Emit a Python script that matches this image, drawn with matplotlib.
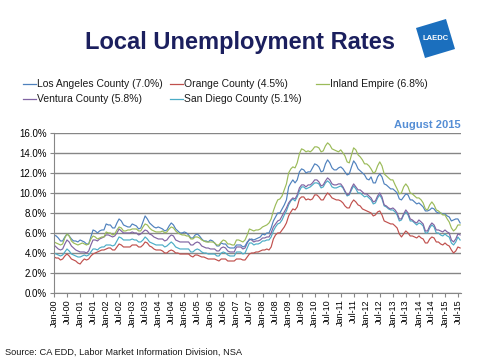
import pandas as pd
import matplotlib
matplotlib.use("Agg")
import matplotlib.pyplot as plt
import matplotlib.dates as mdates
from matplotlib.lines import Line2D
from matplotlib.patches import Polygon

plt.rcParams["font.family"] = ["Liberation Sans", "DejaVu Sans"]

# monthly NSA unemployment rates, Jan 2000 - Aug 2015 (%)
la = [5.8, 5.7, 5.5, 5.2, 5.2, 5.6, 5.9, 5.7, 5.4, 5.2, 5.2, 5.1,
      5.3, 5.2, 5.1, 4.9, 4.9, 5.6, 6.3, 6.2, 6.0, 6.2, 6.3, 6.3,
      6.9, 6.8, 6.8, 6.5, 6.5, 7.0, 7.4, 7.2, 6.8, 6.7, 6.6, 6.6,
      6.9, 6.8, 6.7, 6.4, 6.5, 7.1, 7.7, 7.4, 7.0, 6.8, 6.6, 6.5,
      6.6, 6.5, 6.4, 6.2, 6.3, 6.7, 7.0, 6.8, 6.4, 6.2, 6.0, 6.0,
      6.1, 6.0, 5.8, 5.5, 5.5, 5.8, 5.9, 5.7, 5.4, 5.2, 5.2, 5.1,
      5.3, 5.2, 5.0, 4.7, 4.7, 5.0, 4.9, 4.9, 4.6, 4.5, 4.5, 4.5,
      4.8, 4.8, 4.8, 4.6, 4.7, 5.1, 5.3, 5.4, 5.3, 5.4, 5.5, 5.6,
      5.9, 5.8, 6.0, 6.0, 6.5, 7.2, 7.6, 8.0, 8.0, 8.4, 8.8, 9.3,
      10.6, 11.0, 11.3, 11.0, 11.3, 12.1, 12.4, 12.3, 12.0, 12.1, 12.1, 12.5,
      12.9, 12.8, 12.6, 12.1, 12.2, 12.9, 13.3, 13.0, 12.5, 12.3, 12.3, 12.5,
      12.6, 12.4, 12.1, 11.8, 11.9, 12.6, 13.2, 12.9, 12.4, 12.2, 12.0, 11.8,
      11.4, 11.3, 11.6, 11.0, 11.0, 11.6, 11.9, 11.6, 10.9, 10.8, 10.6, 10.4,
      10.4, 10.2, 10.0, 9.4, 9.3, 9.6, 9.9, 9.8, 9.3, 9.3, 9.1, 8.9,
      9.0, 8.8, 8.6, 8.2, 8.2, 8.3, 8.5, 8.4, 8.1, 8.0, 8.0, 7.9,
      7.9, 7.7, 7.6, 7.2, 7.3, 7.4, 7.4, 7.0]

orange = [3.6, 3.5, 3.5, 3.3, 3.4, 3.7, 3.9, 3.7, 3.4, 3.3, 3.2, 3.0,
          2.9, 3.2, 3.4, 3.3, 3.4, 3.7, 3.9, 4.0, 4.1, 4.2, 4.3, 4.3,
          4.4, 4.5, 4.5, 4.3, 4.3, 4.6, 4.9, 4.8, 4.6, 4.6, 4.6, 4.6,
          4.8, 4.8, 4.8, 4.6, 4.6, 4.8, 5.1, 5.0, 4.7, 4.6, 4.4, 4.3,
          4.3, 4.3, 4.2, 4.0, 4.0, 4.2, 4.3, 4.2, 4.0, 4.0, 3.9, 3.9,
          3.9, 3.9, 3.9, 3.7, 3.6, 3.8, 3.8, 3.7, 3.6, 3.6, 3.5, 3.4,
          3.4, 3.4, 3.4, 3.3, 3.2, 3.4, 3.4, 3.4, 3.2, 3.2, 3.2, 3.2,
          3.4, 3.4, 3.4, 3.3, 3.3, 3.6, 3.9, 4.0, 4.0, 4.1, 4.1, 4.2,
          4.3, 4.3, 4.4, 4.3, 4.6, 5.4, 5.8, 6.0, 6.0, 6.3, 6.6, 7.0,
          7.7, 8.1, 8.4, 8.3, 8.6, 9.4, 9.6, 9.6, 9.3, 9.4, 9.3, 9.4,
          9.8, 9.8, 9.6, 9.3, 9.3, 9.7, 10.0, 9.8, 9.5, 9.4, 9.3, 9.3,
          9.2, 9.0, 8.7, 8.5, 8.5, 9.0, 9.3, 9.1, 8.8, 8.7, 8.4, 8.3,
          8.2, 8.1, 8.0, 7.7, 7.8, 8.1, 8.2, 7.8, 7.2, 7.1, 7.0, 6.9,
          6.9, 6.7, 6.5, 5.9, 5.6, 5.9, 6.2, 6.0, 5.7, 5.7, 5.6, 5.5,
          5.7, 5.5, 5.4, 5.0, 5.0, 5.4, 5.6, 5.5, 5.1, 5.1, 4.9, 4.8,
          5.0, 4.8, 4.7, 4.3, 4.0, 4.2, 4.6, 4.5]

inland = [5.1, 5.0, 4.9, 4.8, 4.9, 5.5, 5.9, 5.7, 5.2, 5.0, 4.9, 4.8,
          4.9, 5.0, 4.9, 4.8, 4.9, 5.4, 5.7, 5.6, 5.4, 5.5, 5.6, 5.6,
          6.1, 6.0, 6.0, 5.8, 5.9, 6.3, 6.6, 6.5, 6.2, 6.2, 6.3, 6.3,
          6.4, 6.4, 6.4, 6.2, 6.2, 6.6, 6.9, 6.8, 6.5, 6.3, 6.2, 6.1,
          6.1, 6.1, 6.2, 6.0, 6.1, 6.4, 6.6, 6.5, 6.2, 6.0, 5.9, 5.8,
          5.8, 5.7, 5.7, 5.4, 5.4, 5.6, 5.6, 5.5, 5.3, 5.2, 5.1, 5.1,
          5.1, 5.1, 5.0, 4.8, 4.8, 5.1, 5.3, 5.2, 4.9, 4.9, 4.8, 4.8,
          5.3, 5.3, 5.2, 5.1, 5.3, 5.8, 6.4, 6.3, 6.2, 6.3, 6.3, 6.4,
          6.6, 6.7, 6.8, 7.0, 7.4, 8.2, 8.8, 9.3, 9.4, 9.7, 10.3, 10.9,
          12.0, 12.4, 12.6, 12.5, 13.0, 13.9, 14.4, 14.3, 14.1, 14.2, 14.1, 14.3,
          14.6, 14.6, 14.5, 14.1, 14.2, 14.7, 15.0, 14.8, 14.4, 14.3, 14.2, 14.1,
          14.3, 14.0, 13.7, 13.1, 13.0, 13.8, 14.5, 14.3, 13.8, 13.6, 13.3, 12.9,
          12.9, 12.7, 12.4, 12.0, 12.1, 12.7, 13.1, 12.7, 11.9, 11.7, 11.5, 11.3,
          11.3, 10.8, 10.4, 9.9, 10.0, 10.6, 10.9, 10.6, 10.0, 9.9, 9.7, 9.5,
          9.5, 9.3, 9.0, 8.4, 8.3, 8.8, 9.1, 8.8, 8.3, 8.2, 8.0, 7.8,
          7.8, 7.4, 7.1, 6.5, 6.2, 6.4, 6.8, 6.8]

ventura = [4.8, 4.6, 4.4, 4.3, 4.4, 4.9, 5.3, 5.1, 4.7, 4.5, 4.3, 4.2,
           4.1, 4.1, 4.1, 4.0, 4.2, 4.8, 5.3, 5.3, 5.2, 5.4, 5.5, 5.6,
           5.8, 5.8, 5.7, 5.6, 5.7, 6.0, 6.4, 6.2, 6.0, 6.0, 6.0, 6.0,
           6.1, 6.0, 6.0, 5.8, 5.9, 6.1, 6.3, 6.2, 5.9, 5.8, 5.6, 5.5,
           5.4, 5.4, 5.4, 5.2, 5.3, 5.6, 5.8, 5.7, 5.3, 5.2, 5.1, 5.1,
           5.1, 5.1, 5.1, 4.8, 4.8, 5.0, 5.1, 5.0, 4.7, 4.6, 4.5, 4.5,
           4.4, 4.4, 4.4, 4.2, 4.2, 4.5, 4.6, 4.5, 4.2, 4.1, 4.1, 4.1,
           4.6, 4.6, 4.6, 4.4, 4.5, 5.0, 5.4, 5.3, 5.1, 5.2, 5.2, 5.3,
           5.5, 5.5, 5.6, 5.6, 6.0, 6.6, 6.9, 7.2, 7.3, 7.7, 8.1, 8.5,
           9.0, 9.3, 9.5, 9.4, 9.8, 10.5, 10.8, 10.8, 10.6, 10.8, 10.8, 11.0,
           11.3, 11.3, 11.1, 10.7, 10.8, 11.2, 11.5, 11.3, 10.9, 10.8, 10.8, 10.9,
           10.9, 10.6, 10.2, 9.8, 9.9, 10.5, 10.9, 10.6, 10.3, 10.3, 10.1, 9.9,
           9.9, 9.7, 9.5, 9.1, 9.2, 9.7, 10.0, 9.6, 8.8, 8.7, 8.5, 8.4,
           8.5, 8.3, 8.0, 7.4, 7.4, 7.9, 8.3, 8.0, 7.4, 7.3, 7.1, 7.0,
           7.3, 7.1, 6.9, 6.2, 6.2, 6.7, 7.0, 6.8, 6.3, 6.3, 6.2, 6.1,
           6.3, 6.1, 6.0, 5.3, 5.1, 5.4, 5.9, 5.8]

san_diego = [4.0, 3.9, 3.8, 3.7, 3.8, 4.1, 4.4, 4.2, 3.9, 3.8, 3.7, 3.6,
             3.6, 3.7, 3.8, 3.7, 3.8, 4.1, 4.4, 4.4, 4.3, 4.5, 4.6, 4.6,
             4.8, 4.8, 4.8, 4.7, 4.8, 5.2, 5.6, 5.5, 5.3, 5.3, 5.3, 5.3,
             5.4, 5.3, 5.3, 5.1, 5.1, 5.3, 5.6, 5.4, 5.1, 5.0, 4.9, 4.8,
             4.8, 4.8, 4.8, 4.6, 4.7, 4.9, 5.1, 4.9, 4.6, 4.5, 4.4, 4.4,
             4.4, 4.4, 4.4, 4.1, 4.1, 4.3, 4.4, 4.3, 4.1, 4.0, 4.0, 3.9,
             3.9, 3.9, 3.9, 3.7, 3.7, 4.0, 4.1, 4.0, 3.8, 3.7, 3.7, 3.7,
             4.1, 4.1, 4.1, 3.9, 4.0, 4.5, 5.0, 5.0, 4.8, 4.9, 4.9, 5.0,
             5.2, 5.2, 5.3, 5.3, 5.6, 6.2, 6.6, 6.9, 7.0, 7.3, 7.8, 8.2,
             8.8, 9.2, 9.4, 9.2, 9.6, 10.2, 10.6, 10.6, 10.4, 10.5, 10.6, 10.8,
             11.0, 11.0, 10.9, 10.5, 10.6, 11.0, 11.2, 11.0, 10.6, 10.5, 10.5, 10.6,
             10.7, 10.5, 10.1, 9.7, 9.8, 10.3, 10.7, 10.4, 10.0, 10.0, 9.8, 9.6,
             9.7, 9.5, 9.3, 8.9, 9.0, 9.5, 9.8, 9.4, 8.7, 8.6, 8.4, 8.3,
             8.3, 8.1, 7.8, 7.2, 7.3, 7.8, 8.1, 7.8, 7.2, 7.2, 7.0, 6.8,
             7.0, 6.9, 6.7, 6.0, 6.0, 6.5, 6.8, 6.6, 6.0, 6.0, 5.8, 5.7,
             5.9, 5.7, 5.6, 5.0, 4.8, 5.1, 5.6, 5.3]

labels = ["Los Angeles County (7.0%)", "Orange County (4.5%)",
          "Inland Empire (6.8%)", "Ventura County (5.8%)",
          "San Diego County (5.1%)"]
colors = ["#4F81BD", "#C0504D", "#9BBB59", "#8064A2", "#4BACC6"]
series = [la, orange, inland, ventura, san_diego]

dates = pd.date_range("2000-01-01", periods=len(la), freq="MS")

fig = plt.figure(figsize=(4.8, 3.6), dpi=100)
ax = fig.add_axes([0.1125, 0.186, 0.848, 0.445])

# draw back to front like the original
for idx in [4, 3, 1, 0, 2]:
    ax.plot(dates, series[idx], color=colors[idx], linewidth=0.85)

ax.set_ylim(0, 16)
ax.set_yticks(range(0, 17, 2))
ax.set_yticklabels(["%.1f%%" % v for v in range(0, 17, 2)])
ax.set_xlim(pd.Timestamp("2000-01-01"), pd.Timestamp("2015-08-14"))
ax.xaxis.set_major_locator(mdates.MonthLocator(bymonth=[1, 7]))
ax.xaxis.set_major_formatter(mdates.DateFormatter("%b-%y"))
ax.grid(axis="y", color="#868686", linewidth=1.0)
ax.set_axisbelow(True)
for s in ["top", "right"]:
    ax.spines[s].set_visible(False)
ax.spines["left"].set_color("#868686")
ax.spines["bottom"].set_color("#868686")
ax.tick_params(axis="x", labelsize=6.5, rotation=90, length=3,
               color="#868686", pad=1.5)
ax.tick_params(axis="y", labelsize=7, length=3, color="#868686", pad=2)

# title and notes
fig.text(0.50, 0.882, "Local Unemployment Rates", ha="center", va="center",
         fontsize=17, fontweight="bold", color="#1B1F5E")
ax.text(1.0, 1.015, "August 2015", transform=ax.transAxes, ha="right",
        va="bottom", fontsize=8, fontweight="bold", color="#558ED5")
fig.text(0.01, 0.014, "Source: CA EDD, Labor Market Information Division, NSA",
         fontsize=6.7, color="#1a1a1a")

# logo
fig.add_artist(Polygon([(416 / 480, 1 - 28 / 360), (446 / 480, 1 - 19 / 360),
                        (455 / 480, 1 - 49 / 360), (425 / 480, 1 - 58 / 360)],
                       closed=True, transform=fig.transFigure,
                       facecolor="#1B6FBE", edgecolor="none"))
fig.text(435.5 / 480, 1 - 38.5 / 360, "LAEDC", ha="center", va="center",
         fontsize=5.5, fontweight="bold", color="white")

# legend laid out by hand
legend_pos = [(23, 84), (170, 84), (316, 84), (23, 99), (170, 99)]
for (px, py), lab, col in zip(legend_pos, labels, colors):
    y = 1 - py / 360
    fig.add_artist(Line2D([px / 480, (px + 13) / 480], [y, y],
                          transform=fig.transFigure, color=col, linewidth=0.9))
    fig.text((px + 14) / 480, y, lab, ha="left", va="center", fontsize=7.5,
             color="#1a1a1a")

fig.savefig("out.png", dpi=100)
